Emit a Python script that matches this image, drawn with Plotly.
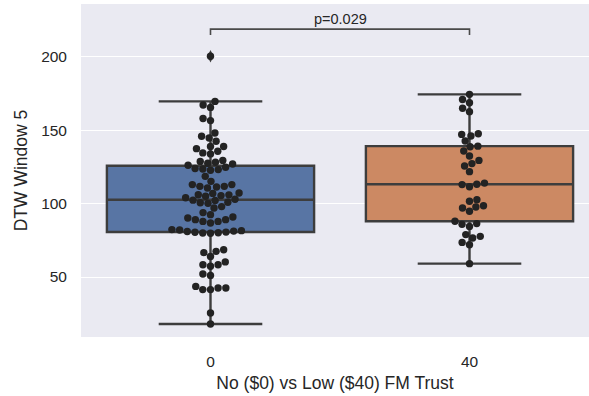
import numpy as np
import plotly.graph_objects as go

# ---------------- data ----------------
categories = ["0", "40"]
x_label = "No ($0) vs Low ($40) FM Trust"
y_label = "DTW Window 5"
p_value = 0.029

group_0 = [
    200.5,
    169.7, 167.2, 165.6, 158.0, 156.6, 148.2, 145.9, 144.8, 142.5, 139.0, 139.0, 137.5, 135.7, 134.6, 133.9,
    129.5, 128.8, 128.2, 127.5, 127.0, 126.2,
    124.8, 124.0, 123.6, 123.2, 122.8,
    118.6,
    115.2, 113.0, 113.0, 111.8, 111.8, 111.4, 110.7,
    107.3, 107.0, 106.1, 106.0, 105.5, 105.0, 104.0, 103.0, 102.4, 102.2,
    101.0, 100.6, 100.2,
    98.0, 97.0,
    93.9, 92.5,
    90.9, 90.2, 89.1, 89.1, 87.9, 87.9, 86.8,
    82.3, 82.0, 81.6, 81.3, 81.0, 80.6, 80.5, 80.2, 80.0, 79.8,
    68.6, 67.5, 66.6, 64.0, 60.3, 58.4, 58.4, 57.3, 52.0, 51.0,
    43.6, 42.5, 42.5, 41.4, 41.4, 25.5, 18.0,
]

group_40 = [
    174.5, 171.0, 168.8, 165.0, 162.7,
    147.7, 147.2, 146.1, 142.7, 139.2, 138.8,
    135.9, 132.5, 129.5, 127.3, 125.7, 121.8,
    114.0, 113.2, 113.0, 111.5,
    102.7, 101.6, 98.6, 97.7, 97.0, 94.8,
    88.0, 86.4, 85.9, 84.5,
    78.9, 77.7, 76.6, 73.6, 72.0,
    59.1,
]

groups = [group_0, group_40]

# ---------------- style / layout ----------------
W, H = 589, 396
M_L, M_R, M_T, M_B = 81, 0, 4, 59
PX_PER_CAT = 259.0
X_RANGE = [-0.5, -0.5 + (W - M_L - M_R) / PX_PER_CAT]
Y_RANGE = [9.1, 236.1]
box_colors = ["#5875A4", "#CC8963"]
edge_color = "#3D3D3D"
dot_color = "#232323"
DOT_R = 3.7  # px
BOX_WIDTH = 0.8
FONT = "Liberation Sans, Arial, sans-serif"
BRACKET_TOP = 219.0
BRACKET_TICK = 4.0

plot_w = W - M_L - M_R
plot_h = H - M_T - M_B
px_per_x = plot_w / (X_RANGE[1] - X_RANGE[0])
px_per_y = plot_h / (Y_RANGE[1] - Y_RANGE[0])


def box_stats(vals):
    v = np.asarray(vals, float)
    q1, med, q3 = np.percentile(v, [25, 50, 75])
    iqr = q3 - q1
    lo_lim, hi_lim = q1 - 1.5 * iqr, q3 + 1.5 * iqr
    inside = v[(v >= lo_lim) & (v <= hi_lim)]
    fliers = v[(v < lo_lim) | (v > hi_lim)]
    return q1, med, q3, inside.min(), inside.max(), fliers


def swarm_offsets(vals, r):
    """seaborn-like beeswarm placement in pixel space; returns offsets in x data units."""
    v = np.asarray(vals, float)
    order = np.argsort(v, kind="stable")
    ys = v[order] * px_per_y
    placed = []
    for y in ys:
        neighbors = []
        for xj, yj in reversed(placed):
            if y - yj < 2 * r:
                neighbors.append((xj, yj))
            else:
                break
        cands = [0.0]
        left_first = True
        for xj, yj in neighbors:
            dy = y - yj
            dx = np.sqrt(max(4 * r * r - dy * dy, 0.0)) * 1.05
            pair = [xj - dx, xj + dx] if left_first else [xj + dx, xj - dx]
            cands.extend(pair)
            left_first = not left_first
        cands = sorted(cands, key=abs)
        chosen = cands[0]
        for cx in cands:
            if all((cx - xj) ** 2 + (y - yj) ** 2 >= 4 * r * r - 1e-9 for xj, yj in neighbors):
                chosen = cx
                break
        placed.append((chosen, y))
    offs = np.empty(len(v))
    offs[order] = [p[0] for p in placed]
    return offs / px_per_x


fig = go.Figure()

for i, vals in enumerate(groups):
    q1, med, q3, lf, uf, fliers = box_stats(vals)
    fig.add_trace(go.Box(
        x=[i], q1=[q1], median=[med], q3=[q3], lowerfence=[lf], upperfence=[uf],
        width=BOX_WIDTH, whiskerwidth=0.5, boxpoints=False,
        fillcolor=box_colors[i], line=dict(color=edge_color, width=2.4),
        hoverinfo="skip", showlegend=False,
    ))
    if len(fliers):
        fig.add_trace(go.Scatter(
            x=[i] * len(fliers), y=list(fliers), mode="markers",
            marker=dict(symbol="diamond-tall", size=9, color=edge_color),
            hoverinfo="skip", showlegend=False,
        ))

for i, vals in enumerate(groups):
    offs = swarm_offsets(vals, DOT_R)
    fig.add_trace(go.Scatter(
        x=i + offs, y=vals, mode="markers",
        marker=dict(size=2 * DOT_R, color=dot_color, line=dict(width=0)),
        hoverinfo="skip", showlegend=False,
    ))

# significance bracket
fig.add_trace(go.Scatter(
    x=[0, 0, 1, 1],
    y=[BRACKET_TOP - BRACKET_TICK, BRACKET_TOP, BRACKET_TOP, BRACKET_TOP - BRACKET_TICK],
    mode="lines", line=dict(color="#4A4A4A", width=1.6),
    hoverinfo="skip", showlegend=False, cliponaxis=False,
))
fig.add_annotation(
    x=0.5, y=BRACKET_TOP, xref="x", yref="y", text=f"p={p_value}",
    showarrow=False, yanchor="bottom", yshift=0,
    font=dict(family=FONT, size=14.5, color="#262626"),
)

fig.update_layout(
    width=W, height=H,
    margin=dict(l=M_L, r=M_R, t=M_T, b=M_B, autoexpand=False),
    plot_bgcolor="#EAEAF2", paper_bgcolor="white",
    font=dict(family=FONT, color="#262626"),
    showlegend=False,
)
fig.update_xaxes(
    range=X_RANGE, tickvals=list(range(len(categories))), ticktext=categories,
    showgrid=False, zeroline=False, showline=False, ticks="",
    tickfont=dict(size=15.5, color="#262626"), ticklabelstandoff=13,
    title=dict(text=x_label, font=dict(size=17.5, color="#262626"), standoff=8),
    automargin=False,
)
fig.update_yaxes(
    range=Y_RANGE, tickvals=[50, 100, 150, 200],
    showgrid=True, gridcolor="white", gridwidth=1.4,
    zeroline=False, showline=False, ticks="",
    tickfont=dict(size=15.5, color="#262626"), ticklabelstandoff=13,
    title=dict(text=y_label, font=dict(size=17.5, color="#262626"), standoff=9),
    automargin=False,
)

fig.write_html("out.html", config={"displayModeBar": False})
